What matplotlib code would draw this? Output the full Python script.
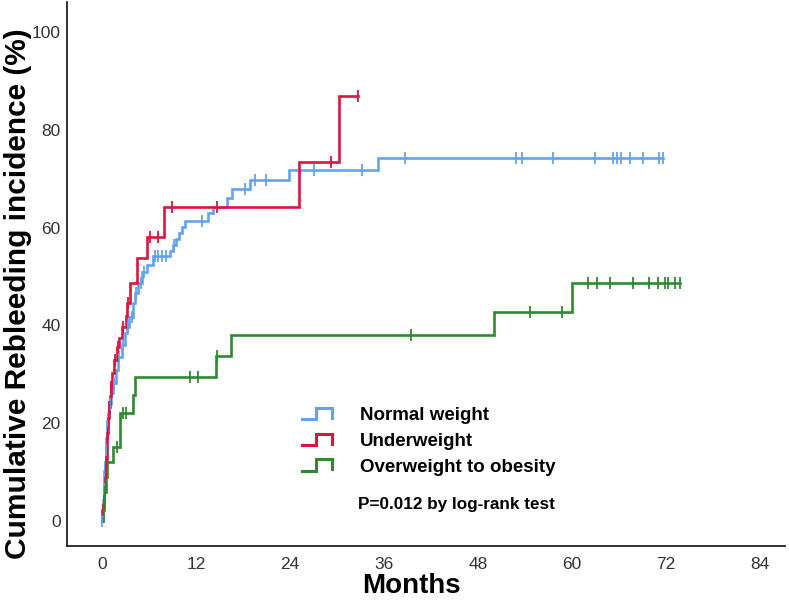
import numpy as np
import matplotlib
matplotlib.use("Agg")
import matplotlib.pyplot as plt
from matplotlib.lines import Line2D
from matplotlib.legend_handler import HandlerBase

plt.rcParams['font.family'] = ['Liberation Sans', 'DejaVu Sans']

# ---------------- data ----------------
group_names = ["Normal weight", "Underweight", "Overweight to obesity"]
group_colors = ["#64a2eb", "#d8173f", "#2e8a2e"]

# Normal weight: event times (months) and cumulative incidence (%)
normal_times = [0.0, 0.1, 0.15, 0.2, 0.25, 0.3, 0.35, 0.45, 0.55, 0.65, 0.75, 0.9, 1.1,
                1.4, 1.8, 2.0, 2.5, 2.9, 3.2, 3.5, 4.0, 4.2, 4.6, 5.1, 5.7, 6.5, 8.7,
                9.0, 9.5, 9.8, 10.2, 10.6, 13.5, 14.2, 16.0, 16.6, 18.9, 23.9, 35.3]
normal_values = [0.0, 2.0, 4.3, 6.5, 8.4, 10.2, 12.0, 14.5, 17.0, 19.5, 22.0, 24.0, 26.2,
                 28.2, 30.9, 33.5, 36.0, 38.4, 39.7, 41.7, 44.6, 46.6, 48.7, 51.0, 52.4,
                 54.2, 55.3, 56.4, 57.6, 58.9, 60.1, 61.3, 63.0, 64.2, 66.0, 67.9, 69.7,
                 71.8, 74.2]
normal_censor = [0.05, 0.12, 0.22, 0.32, 0.5, 0.7, 1.0, 1.5, 2.2, 2.7, 3.3, 3.8, 4.4,
                 5.0, 5.4, 6.8, 7.2, 7.6, 8.2, 9.2, 12.8, 18.3, 19.5, 20.9, 27.1, 33.2,
                 38.7, 52.9, 53.6, 57.6, 63.0, 65.3, 65.8, 66.2, 67.4, 69.1, 71.1, 71.6]
normal_end = 71.6

# Underweight
under_times = [0.0, 0.05, 0.2, 0.3, 0.4, 0.5, 0.6, 0.7, 0.8, 0.9, 1.0, 1.1, 1.3, 1.5,
               1.9, 2.2, 2.6, 3.0, 3.2, 3.6, 4.5, 5.7, 7.9, 25.2, 30.3]
under_values = [0.0, 2.2, 4.0, 6.0, 9.8, 12.0, 15.0, 18.0, 21.0, 23.3, 25.5, 27.4, 30.3,
                33.0, 35.6, 37.5, 39.7, 42.0, 44.6, 48.7, 53.8, 58.1, 64.2, 73.4, 86.9]
under_censor = [0.15, 0.45, 0.55, 0.75, 0.95, 1.2, 1.6, 2.0, 2.7, 3.3, 6.1, 7.2, 8.9,
                14.7, 29.2, 32.7]
under_end = 32.7

# Overweight to obesity
over_times = [0.0, 0.1, 0.3, 0.5, 0.6, 1.4, 2.3, 3.9, 4.2, 14.6, 16.5, 50.0, 60.0]
over_values = [0.0, 3.0, 6.0, 9.0, 12.1, 15.1, 22.1, 25.8, 29.4, 33.7, 38.1, 42.7, 48.7]
over_censor = [0.2, 0.4, 1.9, 2.7, 3.1, 11.2, 12.3, 14.7, 39.5, 54.7, 58.7, 62.0, 63.2,
               64.9, 67.8, 69.9, 71.0, 71.9, 72.2, 73.2, 73.8]
over_end = 73.8

x_ticks = [0, 12, 24, 36, 48, 60, 72, 84]
y_ticks = [0, 20, 40, 60, 80, 100]
p_text = "P=0.012 by log-rank test"

groups = [
    (normal_times, normal_values, normal_censor, normal_end),
    (under_times, under_values, under_censor, under_end),
    (over_times, over_values, over_censor, over_end),
]

# ---------------- figure ----------------
fig = plt.figure(figsize=(7.89, 6.0), dpi=100)
ax = fig.add_axes([67 / 789, 54 / 600, 718 / 789, 544 / 600])

for (t, v, c, end), col in zip(groups, group_colors):
    t = np.asarray(t, float)
    v = np.asarray(v, float)
    tt = np.append(t, end)
    vv = np.append(v, v[-1])
    ax.step(tt, vv, where='post', color=col, lw=1.9, solid_joinstyle='miter', zorder=3)
    c = np.asarray(c, float)
    idx = np.searchsorted(t, c, side='right') - 1
    ax.plot(c, v[idx], linestyle='none', marker='|', markersize=8,
            markeredgewidth=1.3, color=col, zorder=4)

ax.set_xlim(-4.47, 87.2)
ax.set_ylim(-5.1, 106.1)
ax.set_xticks(x_ticks)
ax.set_yticks(y_ticks)
ax.tick_params(length=0, labelsize=12.5, labelcolor='#333333')
ax.tick_params(axis='y', pad=4.5)
ax.tick_params(axis='x', pad=8)
for s in ['top', 'right']:
    ax.spines[s].set_visible(False)
for s in ['left', 'bottom']:
    ax.spines[s].set_linewidth(1.3)
    ax.spines[s].set_color('#222222')

fig.text(411 / 789, 1 - 586 / 600, "Months", fontsize=20, fontweight='bold',
         ha='center', va='center')
fig.text(18 / 789, 1 - 294 / 600, "Cumulative Rebleeding incidence (%)", fontsize=21.5,
         fontweight='bold', rotation=90, ha='center', va='center')


class StepHandler(HandlerBase):
    def create_artists(self, legend, orig_handle, xdescent, ydescent, width,
                       height, fontsize, trans):
        w, h = width, height
        xs = [0, 0.45 * w, 0.45 * w, w, w]
        ys = [0.1 * h, 0.1 * h, 0.95 * h, 0.95 * h, 0.2 * h]
        ln = Line2D(xs, ys, color=orig_handle.get_color(), lw=2.2,
                    solid_joinstyle='miter', transform=trans)
        return [ln]


handles = [Line2D([], [], color=c) for c in group_colors]
leg = ax.legend(handles, group_names, handler_map={Line2D: StepHandler()},
                loc='upper left', bbox_to_anchor=(0.304, 0.286), frameon=False,
                prop={'weight': 'bold', 'size': 13.5}, handlelength=1.6,
                handleheight=0.7, handletextpad=1.5, labelspacing=0.46)
ax.text(0.405, 0.0754, p_text, transform=ax.transAxes, fontsize=12.3,
        fontweight='bold', ha='left', va='center')

fig.savefig("out.png", dpi=100)
